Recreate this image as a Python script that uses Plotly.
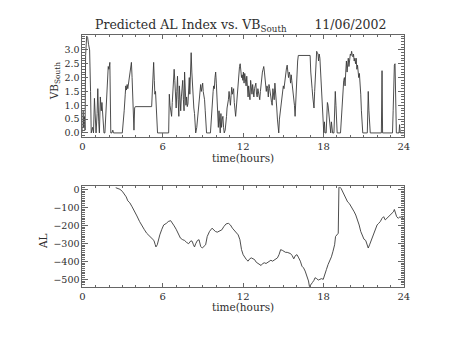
import plotly.graph_objects as go

# Southward IMF component (VB_South) over the day, hours UT
vb_hours = [0.00, 0.05, 0.10, 0.15, 0.20, 0.24, 0.32, 0.39, 0.46, 0.54, 0.61, 0.66, 0.76, 0.83, 0.90, 0.98,
            1.02, 1.10, 1.15, 1.22, 1.27, 1.34, 1.41, 1.46, 1.54, 1.61, 1.68, 1.78, 1.85, 1.93, 1.98, 2.05,
            2.12, 2.20, 2.27, 2.32, 2.98, 3.05, 3.12, 3.20, 3.24, 3.29, 3.34, 3.39, 3.46, 3.54, 3.61, 3.66,
            3.71, 3.76, 3.80, 3.85, 3.90, 3.95, 5.17, 5.22, 5.27, 5.32, 5.37, 5.41, 5.46, 5.51, 5.56, 5.61,
            6.44, 6.49, 6.54, 6.59, 6.66, 6.71, 6.76, 6.80, 6.85, 6.90, 6.95, 7.00, 7.05, 7.10, 7.15, 7.20,
            7.24, 7.29, 7.34, 7.39, 7.44, 7.49, 7.54, 7.59, 7.63, 7.68, 7.73, 7.78, 7.83, 7.88, 7.93, 7.98,
            8.02, 8.07, 8.12, 8.17, 8.22, 8.27, 8.32, 8.37, 8.41, 8.46, 8.54, 8.61, 8.66, 8.73, 8.78, 8.83,
            8.88, 8.93, 8.98, 9.02, 9.07, 9.12, 9.17, 9.22, 9.27, 9.56, 9.61, 9.66, 9.71, 9.76, 9.80, 9.85,
            9.90, 9.95, 10.00, 10.05, 10.10, 10.15, 10.20, 10.24, 10.29, 10.34, 10.39, 10.44, 10.49, 10.54,
            10.59, 10.66, 10.71, 10.76, 10.80, 10.85, 10.90, 10.95, 11.00, 11.05, 11.10, 11.15, 11.20, 11.24,
            11.29, 11.34, 11.39, 11.44, 11.49, 11.54, 11.59, 11.63, 11.68, 11.73, 11.78, 11.83, 11.88, 11.93,
            11.98, 12.02, 12.07, 12.12, 12.17, 12.22, 12.27, 12.32, 12.37, 12.41, 12.46, 12.51, 12.56, 12.61,
            12.66, 12.71, 12.76, 12.80, 12.85, 12.90, 12.95, 13.00, 13.05, 13.10, 13.15, 13.20, 13.24, 13.29,
            13.34, 13.39, 13.44, 13.49, 13.54, 13.59, 13.63, 13.68, 13.73, 13.78, 13.83, 13.88, 13.93, 13.98,
            14.02, 14.07, 14.12, 14.17, 14.22, 14.27, 14.32, 14.37, 14.41, 14.46, 14.51, 14.56, 14.61, 14.66,
            14.71, 14.76, 14.80, 14.85, 14.90, 14.95, 15.00, 15.05, 15.10, 15.15, 15.20, 15.24, 15.29, 15.34,
            15.39, 15.44, 15.49, 15.54, 15.59, 15.63, 15.68, 15.73, 15.78, 15.83, 15.88, 15.93, 15.98, 16.02,
            16.07, 16.12, 17.00, 17.05, 17.10, 17.15, 17.20, 17.24, 17.29, 17.34, 17.39, 17.44, 17.49, 17.54,
            17.59, 17.63, 17.68, 17.73, 17.78, 17.83, 17.88, 17.93, 17.98, 18.02, 18.07, 18.12, 18.20, 18.24,
            18.29, 18.34, 18.39, 18.44, 18.49, 18.54, 18.59, 18.63, 18.68, 18.78, 18.83, 18.88, 18.93, 18.98,
            19.02, 19.27, 19.32, 19.37, 19.41, 19.46, 19.51, 19.56, 19.61, 19.66, 19.71, 19.76, 19.80, 19.85,
            19.90, 19.95, 20.00, 20.05, 20.10, 20.15, 20.20, 20.24, 20.29, 20.34, 20.39, 20.44, 20.49, 20.54,
            20.59, 20.63, 20.68, 20.73, 20.78, 20.83, 20.88, 20.93, 21.27, 21.32, 21.34, 21.39, 21.44, 21.49,
            22.32, 22.37, 22.41, 23.15, 23.20, 23.24, 23.29, 23.34, 23.39, 23.44, 23.64, 23.68, 23.73, 24.00]
vb_south = [0.0, 0.8, 0.2, 0.6, 0.1, 2.8, 3.5, 3.45, 3.2, 3.0, 1.5, 0.0, 0.2, 0.0, 1.25, 0.6,
            0.0, 0.7, 1.6, 0.4, 0.0, 1.3, 0.8, 1.1, 0.2, 0.0, 0.0, 0.8, 1.6, 2.4, 2.3, 2.55,
            0.0, 0.0, 0.1, 0.0, 0.0, 0.3, 0.8, 1.4, 1.7, 1.55, 1.75, 1.6, 1.9, 2.2, 2.5, 2.55,
            2.0, 1.4, 0.6, 0.1, 0.9, 0.95, 0.95, 1.4, 2.0, 2.55, 1.9, 1.4, 1.5, 1.0, 0.5, 0.0,
            0.0, 1.4, 1.0, 0.7, 0.6, 1.1, 1.6, 1.8, 2.3, 1.9, 1.4, 0.9, 1.5, 2.05, 1.2, 0.6,
            1.7, 1.0, 0.8, 1.3, 1.6, 1.9, 1.2, 0.8, 2.2, 1.4, 1.0, 1.3, 0.95, 1.05, 1.6, 2.0,
            1.4, 2.2, 2.9, 2.2, 1.6, 1.2, 0.9, 0.7, 0.4, 0.0, 0.2, 0.6, 0.9, 1.4, 1.7, 1.75,
            1.5, 1.7, 1.8, 1.5, 1.4, 1.2, 0.8, 0.4, 0.0, 0.0, 0.5, 0.9, 1.1, 1.5, 1.7, 1.6,
            2.0, 2.2, 1.8, 1.3, 0.6, 0.2, 0.8, 0.3, 0.0, 0.7, 0.2, 0.5, 0.6, 0.2,
            0.0, 0.1, 0.3, 0.6, 0.9, 1.0, 1.2, 1.5, 1.1, 1.0, 1.35, 1.65, 1.4, 1.6,
            1.6, 1.1, 0.8, 0.6, 0.9, 1.3, 1.7, 2.0, 2.2, 2.4, 2.5, 2.3, 2.0, 2.1,
            1.9, 2.2, 1.8, 2.15, 2.0, 1.7, 2.05, 1.6, 1.3, 1.7, 1.5, 1.2, 1.9, 1.6,
            1.4, 1.75, 1.5, 1.3, 1.6, 1.7, 1.8, 1.4, 1.3, 1.6, 1.4, 1.25, 1.2, 1.5,
            1.8, 2.0, 2.2, 2.3, 2.4, 2.2, 2.0, 1.8, 1.5, 1.7, 1.6, 1.3, 1.75, 1.6,
            1.5, 1.3, 1.1, 1.0, 1.6, 1.3, 1.2, 1.8, 1.6, 1.4, 0.9, 0.5, 0.2, 0.0,
            0.5, 0.7, 0.8, 1.0, 1.2, 1.5, 1.7, 1.6, 1.9, 2.1, 2.2, 2.35, 2.45, 2.2,
            2.0, 2.2, 2.1, 1.8, 2.1, 1.9, 1.7, 1.6, 1.4, 1.0, 0.6, 1.2, 1.8, 2.4,
            2.6, 2.8, 2.8, 2.2, 1.7, 1.6, 1.3, 1.0, 0.9, 1.5, 1.9, 2.4, 2.95, 2.9,
            2.85, 2.6, 2.85, 2.7, 2.3, 1.8, 1.4, 0.8, 0.3, 0.0, 0.4, 0.0, 0.0, 1.05,
            1.1, 1.0, 0.8, 0.5, 0.3, 0.0, 0.4, 0.2, 0.0, 0.0, 0.8, 1.5, 1.0, 0.4,
            0.0, 0.0, 0.4, 0.9, 1.3, 1.7, 1.9, 2.0, 1.7, 2.2, 2.6, 2.2, 2.5, 2.7,
            2.4, 2.6, 2.85, 2.8, 2.95, 2.8, 2.75, 2.85, 2.6, 2.7, 2.5, 2.7, 2.3, 2.45,
            2.2, 2.0, 2.15, 1.9, 1.4, 0.8, 0.3, 0.0, 0.0, 1.1, 1.5, 0.8, 0.3, 0.0,
            0.0, 2.25, 0.0, 0.0, 0.8, 1.8, 2.45, 2.5, 1.0, 0.0, 0.0, 0.3, 0.0, 0.0]

# Predicted AL index (nT)
al_hours = [2.49, 2.66, 2.80, 2.98, 3.15, 3.27, 3.39, 3.54, 3.71, 3.88, 4.07, 4.27, 4.44, 4.61, 4.80, 5.00,
            5.17, 5.34, 5.44, 5.49, 5.59, 5.68, 5.78, 5.93, 6.07, 6.27, 6.41, 6.59, 6.71, 6.85, 7.00, 7.17,
            7.32, 7.49, 7.63, 7.78, 7.93, 8.10, 8.20, 8.29, 8.37, 8.46, 8.59, 8.71, 8.83, 8.95, 9.07, 9.20,
            9.32, 9.49, 9.68, 9.80, 9.93, 10.07, 10.22, 10.41, 10.56, 10.73, 10.90, 11.05, 11.20, 11.39,
            11.63, 11.76, 11.88, 12.00, 12.12, 12.24, 12.37, 12.49, 12.61, 12.73, 12.85, 12.98, 13.10, 13.22,
            13.34, 13.46, 13.59, 13.71, 13.83, 13.95, 14.07, 14.20, 14.32, 14.44, 14.56, 14.68, 14.80, 14.93,
            15.05, 15.17, 15.29, 15.41, 15.54, 15.66, 15.78, 15.90, 16.02, 16.15, 16.27, 16.39, 16.51, 16.63,
            16.76, 16.88, 16.95, 17.05, 17.17, 17.29, 17.37, 17.49, 17.61, 17.73, 17.85, 17.98, 18.10, 18.22,
            18.34, 18.46, 18.59, 18.71, 18.83, 18.90, 19.00, 19.10, 19.15, 19.20, 19.32, 19.44, 19.56, 19.68,
            19.80, 19.93, 20.05, 20.17, 20.29, 20.41, 20.54, 20.66, 20.78, 20.90, 21.02, 21.15, 21.27, 21.34,
            21.44, 21.59, 21.76, 21.88, 22.00, 22.12, 22.24, 22.37, 22.49, 22.61, 22.73, 22.85, 22.98, 23.10,
            23.22, 23.29, 23.39, 23.46, 23.59, 23.71, 23.83, 23.95]
al_index = [9, 5, 0, -11, -27, -42, -64, -75, -97, -119, -148, -179, -203, -222, -244, -258,
            -271, -284, -308, -320, -308, -280, -253, -222, -198, -189, -179, -174, -185, -203, -222, -253,
            -271, -280, -284, -295, -302, -286, -289, -308, -320, -302, -284, -280, -317, -326, -317, -308,
            -262, -234, -216, -225, -234, -238, -231, -225, -207, -192, -189, -198, -216, -234,
            -253, -280, -335, -363, -381, -390, -399, -386, -381, -386, -390, -405, -412, -418,
            -423, -412, -408, -412, -405, -399, -394, -399, -394, -386, -381, -363, -335, -339,
            -344, -350, -350, -353, -357, -368, -386, -368, -363, -381, -399, -427, -436, -454,
            -482, -509, -540, -527, -518, -505, -491, -496, -504, -500, -496, -500, -478, -445,
            -418, -399, -375, -344, -308, -262, -253, -244, 9, 13, 4, -15, -33, -60,
            -70, -79, -93, -106, -125, -143, -170, -198, -234, -262, -277, -284, -308, -326,
            -308, -280, -244, -216, -198, -189, -179, -161, -152, -170, -161, -156, -148, -137,
            -125, -112, -130, -152, -161, -152, -161, -156]

hour_ticks = [0, 6, 12, 18, 24]
vb_ticks = [0.0, 0.5, 1.0, 1.5, 2.0, 2.5, 3.0]
al_ticks = [0, -100, -200, -300, -400, -500]

W, H = 453, 340
FONT = "DejaVu Serif"
INK = "#2e2e2e"
FRAME = "#666666"
TRACE = "#3a3a3a"


def px_x(p):
    return p / W


def px_y(p):
    return 1 - p / H


fig = go.Figure()
fig.add_trace(go.Scatter(x=vb_hours, y=vb_south, mode="lines",
                         line=dict(color=TRACE, width=0.9), xaxis="x", yaxis="y",
                         showlegend=False, hoverinfo="skip"))
fig.add_trace(go.Scatter(x=al_hours, y=al_index, mode="lines",
                         line=dict(color=TRACE, width=0.9), xaxis="x2", yaxis="y2",
                         showlegend=False, hoverinfo="skip"))

x_dom = [px_x(81), px_x(409)]
common_x = dict(range=[0, 24], tickvals=hour_ticks, ticktext=[str(t) for t in hour_ticks],
                ticks="inside", ticklen=4, tickcolor=FRAME, showline=True, linecolor=FRAME,
                linewidth=1, mirror="ticks", showgrid=False, zeroline=False,
                tickfont=dict(family=FONT, size=10, color=INK),
                minor=dict(dtick=1, tick0=0, ticks="inside", ticklen=2, tickcolor=FRAME))
common_y = dict(ticks="inside", ticklen=6, tickcolor=FRAME, showline=True, linecolor=FRAME,
                linewidth=1, mirror="ticks", showgrid=False, zeroline=False,
                tickfont=dict(family=FONT, size=9.5, color=INK))

fig.update_layout(
    width=W, height=H, margin=dict(l=0, r=0, t=0, b=0),
    paper_bgcolor="white", plot_bgcolor="white",
    xaxis=dict(domain=x_dom, anchor="y", **common_x),
    yaxis=dict(domain=[px_y(136), px_y(33)], anchor="x", range=[-0.14, 3.55],
               tickvals=vb_ticks, ticktext=[f"{v:.1f}" for v in vb_ticks],
               minor=dict(dtick=0.1, tick0=0, ticks="inside", ticklen=3, tickcolor=FRAME),
               **common_y),
    xaxis2=dict(domain=x_dom, anchor="y2", **common_x),
    yaxis2=dict(domain=[px_y(288), px_y(185.7)], anchor="x2", range=[-545, 18],
                tickvals=al_ticks, ticktext=[str(v).replace("-", "\u2212") for v in al_ticks],
                minor=dict(dtick=10, tick0=0, ticks="inside", ticklen=3, tickcolor=FRAME),
                **common_y),
)

ann_font = dict(family=FONT, size=10.5, color=INK)
sp = "\u00a0" * 7
fig.add_annotation(text=f"Predicted AL Index vs. VB<sub>South</sub>{sp}11/06/2002",
                   xref="paper", yref="paper", x=px_x(242), y=px_y(24),
                   xanchor="center", yanchor="middle", showarrow=False,
                   font=dict(family=FONT, size=12.5, color=INK))
fig.add_annotation(text="time(hours)", xref="paper", yref="paper", x=px_x(245), y=px_y(157),
                   xanchor="center", yanchor="middle", showarrow=False, font=ann_font)
fig.add_annotation(text="time(hours)", xref="paper", yref="paper", x=px_x(245), y=px_y(308),
                   xanchor="center", yanchor="middle", showarrow=False, font=ann_font)
fig.add_annotation(text="VB<sub>South</sub>", xref="paper", yref="paper", x=px_x(53), y=px_y(80),
                   xanchor="center", yanchor="middle", showarrow=False, textangle=-90, font=ann_font)
fig.add_annotation(text="AL", xref="paper", yref="paper", x=px_x(41), y=px_y(241),
                   xanchor="center", yanchor="middle", showarrow=False, textangle=-90, font=ann_font)

fig.write_html("out.html")
